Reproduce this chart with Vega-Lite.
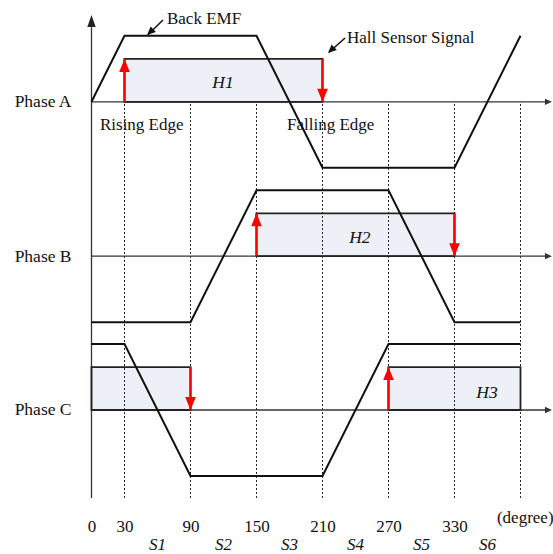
{
  "$schema": "https://vega.github.io/schema/vega-lite/v6.json",
  "width": 465,
  "height": 510,
  "autosize": {"type": "none"},
  "padding": {"left": 88, "top": 0, "right": 0, "bottom": 44},
  "background": "white",
  "config": {"view": {"stroke": null}},
  "datasets": {
    "hall": [
      {"phase": "A", "x": 30, "x2": 210, "y": 4.67, "y2": 5.32},
      {"phase": "B", "x": 150, "x2": 330, "y": 2.33, "y2": 2.98},
      {"phase": "C", "x": 0, "x2": 90, "y": 0, "y2": 0.65},
      {"phase": "C", "x": 270, "x2": 390, "y": 0, "y2": 0.65}
    ],
    "emf": [
      {"phase": "A", "x": 0, "y": 4.67}, {"phase": "A", "x": 30, "y": 5.67}, {"phase": "A", "x": 150, "y": 5.67},
      {"phase": "A", "x": 210, "y": 3.67}, {"phase": "A", "x": 330, "y": 3.67}, {"phase": "A", "x": 390, "y": 5.67},
      {"phase": "B", "x": 0, "y": 1.33}, {"phase": "B", "x": 90, "y": 1.33}, {"phase": "B", "x": 150, "y": 3.33},
      {"phase": "B", "x": 270, "y": 3.33}, {"phase": "B", "x": 330, "y": 1.33}, {"phase": "B", "x": 390, "y": 1.33},
      {"phase": "C", "x": 0, "y": 1}, {"phase": "C", "x": 30, "y": 1}, {"phase": "C", "x": 90, "y": -1},
      {"phase": "C", "x": 210, "y": -1}, {"phase": "C", "x": 270, "y": 1}, {"phase": "C", "x": 390, "y": 1}
    ],
    "baselines": [
      {"phase": "A", "x": 0, "x2": 415, "y": 4.67},
      {"phase": "B", "x": 0, "x2": 415, "y": 2.33},
      {"phase": "C", "x": 0, "x2": 415, "y": 0}
    ],
    "baseheads": [
      {"phase": "A", "x": 418.6, "y": 4.67},
      {"phase": "B", "x": 418.6, "y": 2.33},
      {"phase": "C", "x": 418.6, "y": 0}
    ],
    "yaxis": [{"x": 0, "y": -1.333, "y2": 5.8}],
    "yhead": [{"x": 0, "y": 5.985}],
    "grid": [
      {"x": 30, "y": -1.333, "y2": 4.67}, {"x": 90, "y": -1.333, "y2": 4.67},
      {"x": 150, "y": -1.333, "y2": 4.67}, {"x": 210, "y": -1.333, "y2": 4.67},
      {"x": 270, "y": -1.333, "y2": 4.67}, {"x": 330, "y": -1.333, "y2": 4.67},
      {"x": 390, "y": -1.333, "y2": 4.67}
    ],
    "edges": [
      {"phase": "A", "x": 30, "y": 4.67, "y2": 5.32, "dir": "rising"},
      {"phase": "A", "x": 210, "y": 5.32, "y2": 4.67, "dir": "falling"},
      {"phase": "B", "x": 150, "y": 2.33, "y2": 2.98, "dir": "rising"},
      {"phase": "B", "x": 330, "y": 2.98, "y2": 2.33, "dir": "falling"},
      {"phase": "C", "x": 90, "y": 0.65, "y2": 0, "dir": "falling"},
      {"phase": "C", "x": 270, "y": 0, "y2": 0.65, "dir": "rising"}
    ],
    "callouts": [
      {"label": "Back EMF", "x": 65, "y": 5.909, "x2": 51.5, "y2": 5.69},
      {"label": "Hall Sensor Signal", "x": 230.5, "y": 5.636, "x2": 216, "y2": 5.42}
    ],
    "calloutheads": [
      {"label": "Back EMF", "x": 50.5, "y": 5.682},
      {"label": "Hall Sensor Signal", "x": 215, "y": 5.409}
    ],
    "notes": [
      {"text": "Back EMF", "x": 68.6, "y": 5.848},
      {"text": "Hall Sensor Signal", "x": 232.3, "y": 5.561},
      {"text": "Rising Edge", "x": 7.7, "y": 4.242},
      {"text": "Falling Edge", "x": 177.7, "y": 4.242},
      {"text": "(degree)", "x": 368.6, "y": -1.712}
    ],
    "hnotes": [
      {"text": "H1", "x": 119.5, "y": 4.879},
      {"text": "H2", "x": 244, "y": 2.53},
      {"text": "H3", "x": 359.5, "y": 0.18}
    ],
    "sectors": [
      {"text": "S1", "x": 60, "y": -2.125},
      {"text": "S2", "x": 120, "y": -2.125},
      {"text": "S3", "x": 180, "y": -2.125},
      {"text": "S4", "x": 240, "y": -2.125},
      {"text": "S5", "x": 300, "y": -2.125},
      {"text": "S6", "x": 360, "y": -2.125}
    ]
  },
  "encoding": {
    "x": {
      "field": "x", "type": "quantitative",
      "scale": {"domain": [-3.18, 419.55], "nice": false, "zero": false},
      "axis": {
        "values": [0, 30, 90, 150, 210, 270, 330],
        "domain": false, "ticks": false, "tickSize": 0, "grid": false, "title": null,
        "labelFont": "Liberation Serif", "labelFontSize": 17, "labelColor": "#111",
        "labelPadding": 8, "labelFlush": false, "labelOverlap": false
      }
    },
    "y": {
      "field": "y", "type": "quantitative",
      "scale": {"domain": [-1.5152, 6.2121], "nice": false, "zero": false},
      "axis": {
        "values": [0, 2.33, 4.67],
        "labelExpr": "datum.value < 1 ? 'Phase C' : (datum.value < 3 ? 'Phase B' : 'Phase A')",
        "domain": false, "ticks": false, "tickSize": 0, "grid": false, "title": null,
        "labelFont": "Liberation Serif", "labelFontSize": 17.5, "labelColor": "#111",
        "labelPadding": 17
      }
    }
  },
  "layer": [
    {
      "data": {"name": "hall"},
      "mark": {"type": "rect", "fill": "#edf0f6", "stroke": null},
      "encoding": {"x2": {"field": "x2"}, "y2": {"field": "y2"}}
    },
    {
      "data": {"name": "grid"},
      "mark": {"type": "rule", "color": "#222", "strokeWidth": 1, "strokeDash": [2, 2]},
      "encoding": {"y2": {"field": "y2"}}
    },
    {
      "data": {"name": "baselines"},
      "mark": {"type": "rule", "color": "#333", "strokeWidth": 1.3},
      "encoding": {"x2": {"field": "x2"}}
    },
    {
      "data": {"name": "baseheads"},
      "mark": {"type": "point", "filled": true, "color": "#333", "opacity": 1, "strokeWidth": 0, "size": 196, "shape": "M0,0L-1,-0.45L-1,0.45Z"},
      "encoding": {}
    },
    {
      "data": {"name": "yaxis"},
      "mark": {"type": "rule", "color": "#333", "strokeWidth": 1.3},
      "encoding": {"y2": {"field": "y2"}}
    },
    {
      "data": {"name": "yhead"},
      "mark": {"type": "point", "filled": true, "color": "#222", "opacity": 1, "strokeWidth": 0, "size": 576, "shape": "M0,0L-0.35,1L0.35,1Z"},
      "encoding": {}
    },
    {
      "data": {"name": "hall"},
      "mark": {"type": "rect", "fill": null, "fillOpacity": 0, "stroke": "#222", "strokeWidth": 1.8},
      "encoding": {"x2": {"field": "x2"}, "y2": {"field": "y2"}}
    },
    {
      "data": {"name": "emf"},
      "mark": {"type": "line", "color": "#111", "strokeWidth": 2, "strokeJoin": "miter"},
      "encoding": {"detail": {"field": "phase"}}
    },
    {
      "data": {"name": "edges"},
      "mark": {"type": "rule", "color": "#ff0000", "strokeWidth": 2.3},
      "encoding": {"y2": {"field": "y2"}}
    },
    {
      "data": {"name": "edges"},
      "mark": {"type": "point", "filled": true, "color": "#ff0000", "opacity": 1, "strokeWidth": 0, "size": 676},
      "encoding": {
        "y": {"field": "y2", "type": "quantitative"},
        "shape": {
          "field": "dir", "type": "nominal",
          "scale": {"domain": ["rising", "falling"], "range": ["M0,0L-0.41,1L0.41,1Z", "M0,0L-0.41,-1L0.41,-1Z"]},
          "legend": null
        }
      }
    },
    {
      "data": {"name": "callouts"},
      "mark": {"type": "rule", "color": "#111", "strokeWidth": 1.5},
      "encoding": {"x2": {"field": "x2"}, "y2": {"field": "y2"}}
    },
    {
      "data": {"name": "calloutheads"},
      "mark": {"type": "point", "filled": true, "color": "#111", "opacity": 1, "strokeWidth": 0, "size": 289, "angle": 227, "shape": "M0,0L-0.45,1L0.45,1Z"},
      "encoding": {}
    },
    {
      "data": {"name": "notes"},
      "mark": {"type": "text", "font": "Liberation Serif", "fontSize": 17, "color": "#111", "align": "left", "baseline": "alphabetic"},
      "encoding": {"text": {"field": "text"}}
    },
    {
      "data": {"name": "hnotes"},
      "mark": {"type": "text", "font": "Liberation Serif", "fontSize": 17.5, "fontStyle": "italic", "color": "#111", "align": "center", "baseline": "alphabetic"},
      "encoding": {"text": {"field": "text"}}
    },
    {
      "data": {"name": "sectors"},
      "mark": {"type": "text", "font": "Liberation Serif", "fontSize": 17, "fontStyle": "italic", "color": "#111", "align": "center", "baseline": "alphabetic"},
      "encoding": {"text": {"field": "text"}}
    }
  ]
}
